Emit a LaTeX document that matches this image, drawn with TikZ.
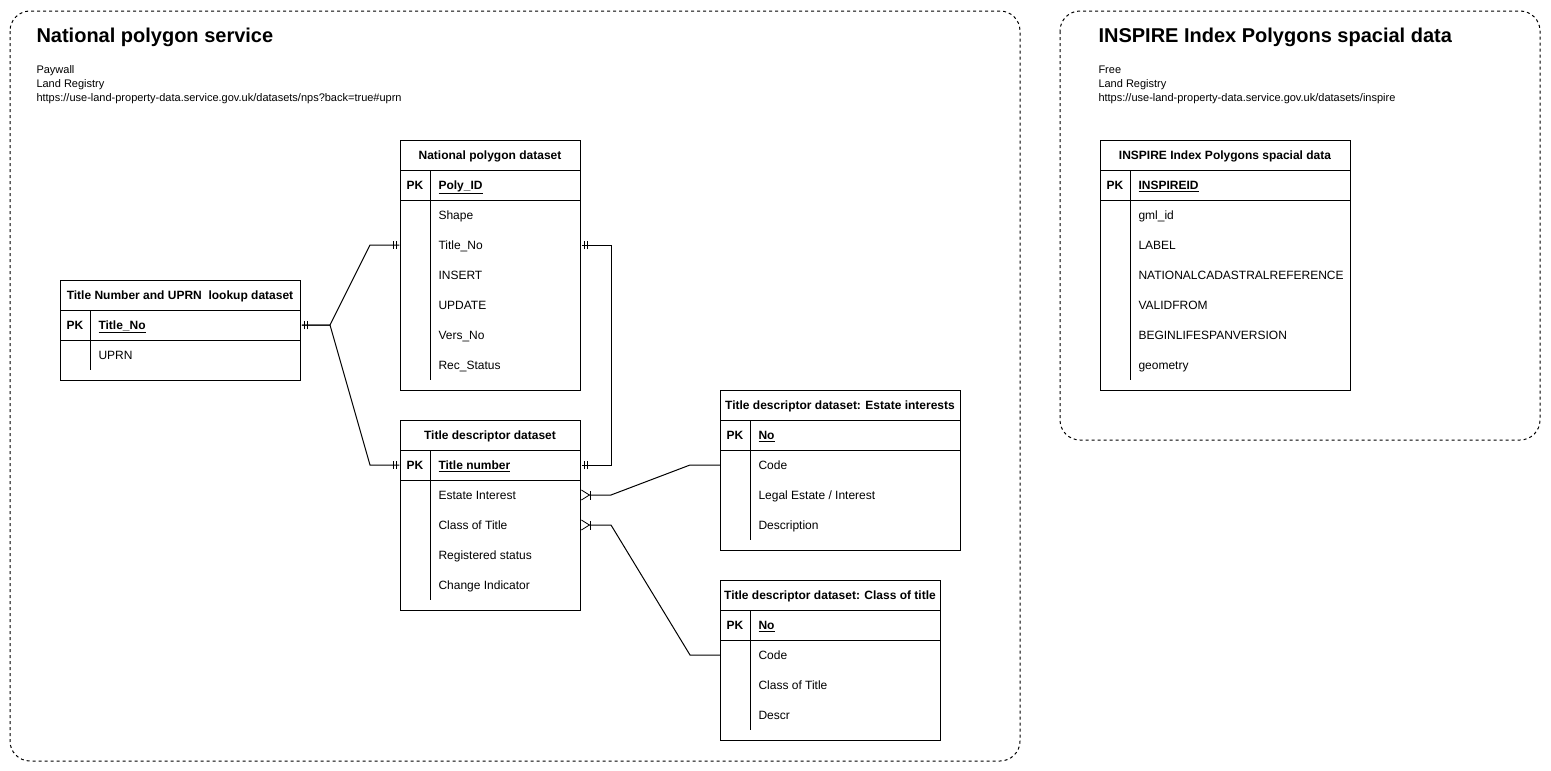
\documentclass[tikz,border=0pt]{standalone}
\usepackage{fontspec}
\setmainfont{Liberation Sans}
\usetikzlibrary{arrows.meta, calc}

\tikzset{
    box/.style={draw, line width=1pt, dash pattern=on 3pt off 3pt, rounded corners=20pt},
    table/.style={draw, line width=1pt, anchor=north west, inner sep=0pt},
    head/.style={anchor=base, inner sep=0pt, font=\bfseries\fontsize{12}{14}\selectfont},
    pk/.style={anchor=base, inner sep=0pt, font=\bfseries\fontsize{12}{14}\selectfont},
    field/.style={anchor=base west, inner sep=0pt, font=\fontsize{12}{14}\selectfont},
    keyfield/.style={field, font=\bfseries\fontsize{12}{14}\selectfont},
    info/.style={anchor=north west, align=left, inner sep=0pt, font=\fontsize{11}{14}\selectfont},
    title/.style={anchor=base west, inner sep=0pt, font=\bfseries\fontsize{20}{24}\selectfont},
    ERone/.tip={Bar[width=8pt,sep=2pt]Bar[width=8pt,sep=2.2pt]Bar[width=0pt]},
    ERmany/.tip={Bar[width=9pt]Straight Barb[reversed,length=8pt,width=10pt,line width=0.8pt]},
    link/.style={line width=1pt},
}

\begin{document}
\begin{tikzpicture}[x=1pt, y=-1pt, line width=1pt]
\useasboundingbox (0,0) rectangle (1551,771);

% Rahmen
\draw[box] (10,11) rectangle (1020,761);
\draw[box] (1060,11) rectangle (1540,440);

% Ueberschriften
\node[title] (nps) at (36,42) {National polygon service};
\node[info] (nps-info) at (36,65) {Paywall\\Land Registry\\https://use-land-property-data.service.gov.uk/datasets/nps?back=true\#uprn};
\node[title] (ins) at (1098,42) {INSPIRE Index Polygons spacial data};
\node[info] (ins-info) at (1098,65) {Free\\Land Registry\\https://use-land-property-data.service.gov.uk/datasets/inspire};

% National polygon dataset
\node[table, minimum width=180pt, minimum height=250pt] (np) at (400,140) {};
\node[head] at (490,159.5) {National polygon dataset};
\draw (400,170) -- (580,170) (400,200) -- (580,200) (430,170) -- (430,380);
\node[pk] at (415,189.5) {PK};
\node[keyfield] (np-pk) at (438,189.5) {\underline{Poly\_ID}};
\foreach \f [count=\i] in {Shape, Title\_No, INSERT, UPDATE, Vers\_No, Rec\_Status}
    \node[field] (np-\i) at (438,189.5+30*\i) {\f};

% Title Number and UPRN lookup dataset
\node[table, minimum width=240pt, minimum height=100pt] (tn) at (60,280) {};
\node[head] at (180,299.5) {Title Number and UPRN\ \ lookup dataset};
\draw (60,310) -- (300,310) (60,340) -- (300,340) (90,310) -- (90,370);
\node[pk] at (75,329.5) {PK};
\node[keyfield] (tn-pk) at (98,329.5) {\underline{Title\_No}};
\node[field] (tn-1) at (98,359.5) {UPRN};

% Title descriptor dataset
\node[table, minimum width=180pt, minimum height=190pt] (td) at (400,420) {};
\node[head] at (490,439.5) {Title descriptor dataset};
\draw (400,450) -- (580,450) (400,480) -- (580,480) (430,450) -- (430,600);
\node[pk] at (415,469.5) {PK};
\node[keyfield] (td-pk) at (438,469.5) {\underline{Title number}};
\foreach \f [count=\i] in {Estate Interest, Class of Title, Registered status, Change Indicator}
    \node[field] (td-\i) at (438,469.5+30*\i) {\f};

% Title descriptor dataset: Estate interests
\node[table, minimum width=240pt, minimum height=160pt] (ei) at (720,390) {};
\node[head] at (840,409.5) {Title descriptor dataset: Estate interests};
\draw (720,420) -- (960,420) (720,450) -- (960,450) (750,420) -- (750,540);
\node[pk] at (735,439.5) {PK};
\node[keyfield] (ei-pk) at (758,439.5) {\underline{No}};
\foreach \f [count=\i] in {Code, Legal Estate / Interest, Description}
    \node[field] (ei-\i) at (758,439.5+30*\i) {\f};

% Title descriptor dataset: Class of title
\node[table, minimum width=220pt, minimum height=160pt] (ct) at (720,580) {};
\node[head] at (830,599.5) {Title descriptor dataset: Class of title};
\draw (720,610) -- (940,610) (720,640) -- (940,640) (750,610) -- (750,730);
\node[pk] at (735,629.5) {PK};
\node[keyfield] (ct-pk) at (758,629.5) {\underline{No}};
\foreach \f [count=\i] in {Code, Class of Title, Descr}
    \node[field] (ct-\i) at (758,629.5+30*\i) {\f};

% INSPIRE Index Polygons spacial data
\node[table, minimum width=250pt, minimum height=250pt] (ip) at (1100,140) {};
\node[head] at (1225,159.5) {INSPIRE Index Polygons spacial data};
\draw (1100,170) -- (1350,170) (1100,200) -- (1350,200) (1130,170) -- (1130,380);
\node[pk] at (1115,189.5) {PK};
\node[keyfield] (ip-pk) at (1138,189.5) {\underline{INSPIREID}};
\foreach \f [count=\i] in {gml\_id, LABEL, NATIONALCADASTRALREFERENCE, VALIDFROM, BEGINLIFESPANVERSION, geometry}
    \node[field] (ip-\i) at (1138,189.5+30*\i) {\f};

% Beziehungen (Hoehe der Zeilenmitte: Grundlinie - 4.5)
\coordinate (fork) at (330,325);
\draw[link, {ERone}-{ERone}] ($(tn-pk.base -| tn.east)+(0,-4.5)$) -- (fork) -- ($(np-2.base -| np.west)+(-30,-4.5)$) -- ($(np-2.base -| np.west)+(0,-4.5)$);
\draw[link, {ERone}-{ERone}] ($(tn-pk.base -| tn.east)+(0,-4.5)$) -- (fork) -- ($(td-pk.base -| td.west)+(-30,-4.5)$) -- ($(td-pk.base -| td.west)+(0,-4.5)$);
\draw[link, {ERone}-{ERone}] ($(np-2.base -| np.east)+(0,-4.5)$) -- ++(30,0) |- ($(td-pk.base -| td.east)+(0,-4.5)$);
\draw[link, {ERmany}-] ($(td-1.base -| td.east)+(0,-4.5)$) -- ++(30,0) -- ($(ei-1.base -| ei.west)+(-30,-4.5)$) -- ($(ei-1.base -| ei.west)+(0,-4.5)$);
\draw[link, {ERmany}-] ($(td-2.base -| td.east)+(0,-4.5)$) -- ++(30,0) -- ($(ct-1.base -| ct.west)+(-30,-4.5)$) -- ($(ct-1.base -| ct.west)+(0,-4.5)$);
\end{tikzpicture}
\end{document}
